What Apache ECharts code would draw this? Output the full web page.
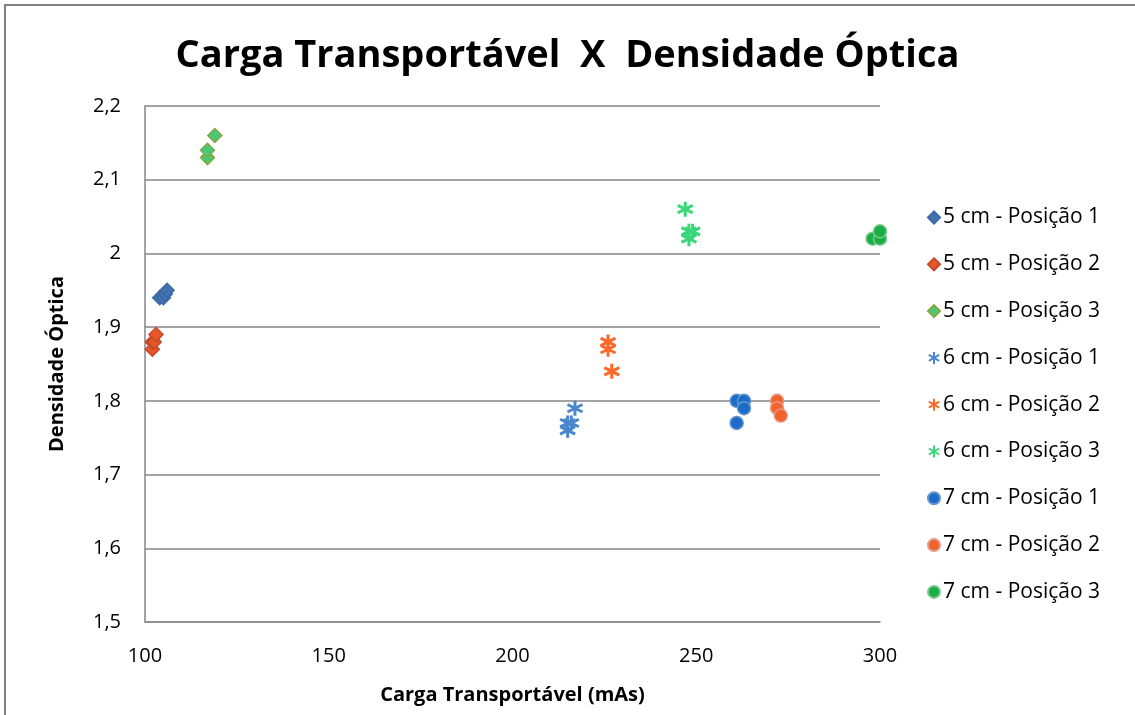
<!DOCTYPE html>
<html>
<head>
<meta charset="utf-8">
<script src="https://cdn.jsdelivr.net/npm/echarts@6/dist/echarts.min.js"></script>
<style>
  html, body { margin: 0; padding: 0; background: #fff; }
  #chart { width: 1135px; height: 715px; }
</style>
</head>
<body>
<div id="chart"></div>
<script>
// data: [mAs, densidade]
const cm5pos1 = [[104, 1.94], [105, 1.94], [105.5, 1.945], [106, 1.95]];
const cm5pos2 = [[102, 1.87], [102, 1.88], [102.5, 1.88], [103, 1.89]];
const cm5pos3 = [[117, 2.13], [117, 2.14], [119, 2.16]];
const cm6pos1 = [[215, 1.76], [215, 1.77], [216, 1.77], [217, 1.79]];
const cm6pos2 = [[226, 1.87], [226, 1.88], [227, 1.84]];
const cm6pos3 = [[247, 2.06], [248, 2.02], [248, 2.03], [249, 2.03]];
const cm7pos1 = [[261, 1.80], [263, 1.80], [263, 1.79], [261, 1.77]];
const cm7pos2 = [[272, 1.80], [272, 1.79], [273, 1.78]];
const cm7pos3 = [[298, 2.02], [300, 2.02], [300, 2.03]];

const seriesNames = [
    "5 cm - Posição 1", "5 cm - Posição 2", "5 cm - Posição 3",
    "6 cm - Posição 1", "6 cm - Posição 2", "6 cm - Posição 3",
    "7 cm - Posição 1", "7 cm - Posição 2", "7 cm - Posição 3"
];
const xTicks = [100, 150, 200, 250, 300];
const yTicks = [1.5, 1.6, 1.7, 1.8, 1.9, 2.0, 2.1, 2.2];

const fontFamily = "'Open Sans', 'Noto Sans', sans-serif";
const starPath = "path://M5,0L5,10M0.7,2.5L9.3,7.5M0.7,7.5L9.3,2.5";

function diamond(name, data, fill, border) {
    return {
        name: name, type: "scatter", data: data,
        symbol: "diamond", symbolSize: 14,
        itemStyle: { color: fill, borderColor: border, borderWidth: 1.5, opacity: 1 }
    };
}
function star(name, data, color) {
    return {
        name: name, type: "scatter", data: data,
        symbol: starPath, symbolSize: 15,
        itemStyle: { color: color, borderColor: color, borderWidth: 3, opacity: 1 }
    };
}
function circle(name, data, fill, border) {
    return {
        name: name, type: "scatter", data: data,
        symbol: "circle", symbolSize: 13,
        itemStyle: { color: fill, borderColor: border, borderWidth: 1.5, opacity: 1 }
    };
}

let myChart = echarts.init(document.getElementById("chart"));

let option = {
    animation: false,
    title: {
        text: "Carga Transportável  X  Densidade Óptica",
        left: "center",
        top: 32,
        textStyle: { fontFamily: fontFamily, fontSize: 38, fontWeight: "bold", color: "#000" }
    },
    graphic: [
        {
            type: "polyline",
            shape: { points: [[5, 715], [5, 5], [1135, 5]] },
            style: { stroke: "#808080", lineWidth: 2, fill: null }
        }
    ],
    legend: {
        orient: "vertical",
        left: 922,
        top: 202,
        itemGap: 25.8,
        itemWidth: 12,
        itemHeight: 12,
        textStyle: { fontFamily: fontFamily, fontSize: 21, color: "#000", padding: [0, 0, 0, -2] },
        data: seriesNames
    },
    grid: { left: 145, right: 255, top: 106, bottom: 93 },
    xAxis: {
        type: "value",
        min: xTicks[0],
        max: xTicks[xTicks.length - 1],
        interval: 50,
        name: "Carga Transportável (mAs)",
        nameLocation: "middle",
        nameGap: 63,
        nameTextStyle: { fontFamily: fontFamily, fontSize: 20, fontWeight: "bold", color: "#000" },
        axisLine: { show: true, lineStyle: { color: "#868686", width: 1.5 } },
        axisTick: { show: false },
        splitLine: { show: false },
        axisLabel: { margin: 24, fontFamily: fontFamily, fontSize: 20, color: "#000" }
    },
    yAxis: {
        type: "value",
        min: yTicks[0],
        max: yTicks[yTicks.length - 1],
        interval: 0.1,
        name: "Densidade Óptica",
        nameLocation: "middle",
        nameGap: 78,
        nameTextStyle: { fontFamily: fontFamily, fontSize: 20, fontWeight: "bold", color: "#000" },
        axisLine: { show: true, lineStyle: { color: "#868686", width: 1.5 } },
        axisTick: { show: false },
        splitLine: { show: true, lineStyle: { color: "#868686", width: 1.5 } },
        axisLabel: {
            margin: 24,
            fontFamily: fontFamily, fontSize: 20, color: "#000",
            formatter: v => String(parseFloat(v.toFixed(1))).replace(".", ",")
        }
    },
    series: [
        diamond(seriesNames[0], cm5pos1, "#4472B0", "#3B6AA6"),
        diamond(seriesNames[1], cm5pos2, "#E8562A", "#C64A28"),
        diamond(seriesNames[2], cm5pos3, "#47C97A", "#8AA63C"),
        star(seriesNames[3], cm6pos1, "#4A86CC"),
        star(seriesNames[4], cm6pos2, "#FF6828"),
        star(seriesNames[5], cm6pos3, "#38D77A"),
        circle(seriesNames[6], cm7pos1, "#1A6CC8", "#6796CF"),
        circle(seriesNames[7], cm7pos2, "#F2632C", "#E39A86"),
        circle(seriesNames[8], cm7pos3, "#1AAE47", "#7DC98B")
    ]
};

myChart.setOption(option);
</script>
</body>
</html>
